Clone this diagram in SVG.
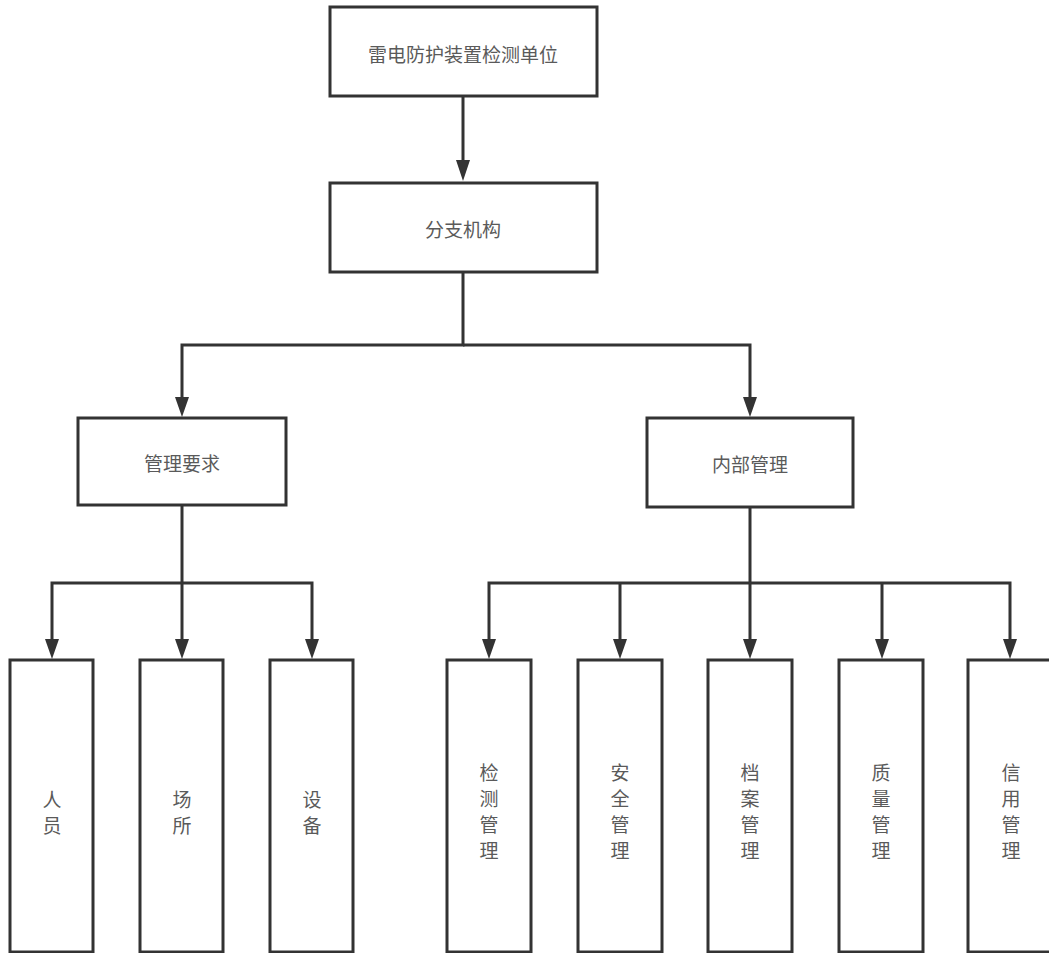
<svg xmlns="http://www.w3.org/2000/svg" width="1049" height="953" viewBox="0 0 1049 953">
<style>
.box{fill:#fff;stroke:#333;stroke-width:3}
.ln{fill:none;stroke:#333;stroke-width:3}
.t{font-family:"Noto Sans CJK SC","Noto Sans",sans-serif;font-size:19px;fill:#5a5a5a;text-anchor:middle;dominant-baseline:central}
</style>
<rect width="1049" height="953" fill="#fff"/>
<g id="connectors">
<path class="ln" d="M463,97 V162" />
<path d="M456,160 L470,160 L463,181 Z" fill="#333"/>
<path class="ln" d="M463,272 V345 H182 V398"/>
<path class="ln" d="M463,345 H750 V398"/>
<path d="M175,397 L189,397 L182,417 Z" fill="#333"/>
<path d="M743,397 L757,397 L750,417 Z" fill="#333"/>
<path class="ln" d="M182,505 V583"/>
<path class="ln" d="M52,640 V583 H312 V640"/>
<path class="ln" d="M182,583 V640"/>
<path d="M45,639 L59,639 L52,659 Z" fill="#333"/>
<path d="M175,639 L189,639 L182,659 Z" fill="#333"/>
<path d="M305,639 L319,639 L312,659 Z" fill="#333"/>
<path class="ln" d="M750,507 V583"/>
<path class="ln" d="M489,640 V583 H1010 V640"/>
<path class="ln" d="M620,583 V640 M750,583 V640 M882,583 V640"/>
<path d="M482,639 L496,639 L489,659 Z" fill="#333"/>
<path d="M613,639 L627,639 L620,659 Z" fill="#333"/>
<path d="M743,639 L757,639 L750,659 Z" fill="#333"/>
<path d="M875,639 L889,639 L882,659 Z" fill="#333"/>
<path d="M1003,639 L1017,639 L1010,659 Z" fill="#333"/>
</g>
<g id="n-root"><rect class="box" x="330" y="7" width="267" height="89"/><text class="t" x="463" y="53">雷电防护装置检测单位</text></g>
<g id="n-branch"><rect class="box" x="330" y="183" width="267" height="89"/><text class="t" x="463" y="228">分支机构</text></g>
<g id="n-req"><rect class="box" x="78" y="418" width="208" height="87"/><text class="t" x="182" y="462">管理要求</text></g>
<g id="n-int"><rect class="box" x="647" y="418" width="206" height="89"/><text class="t" x="750" y="463">内部管理</text></g>
<g id="n-ry"><rect class="box" x="10" y="660" width="83" height="292"/><text class="t" x="52" y="798">人</text><text class="t" x="52" y="824">员</text></g>
<g id="n-cs"><rect class="box" x="140" y="660" width="83" height="292"/><text class="t" x="182" y="798">场</text><text class="t" x="182" y="824">所</text></g>
<g id="n-sb"><rect class="box" x="270" y="660" width="83" height="292"/><text class="t" x="312" y="798">设</text><text class="t" x="312" y="824">备</text></g>
<g id="n-jc"><rect class="box" x="447" y="660" width="84" height="292"/><text class="t" x="489" y="771">检</text><text class="t" x="489" y="797">测</text><text class="t" x="489" y="823">管</text><text class="t" x="489" y="849">理</text></g>
<g id="n-aq"><rect class="box" x="578" y="660" width="84" height="292"/><text class="t" x="620" y="771">安</text><text class="t" x="620" y="797">全</text><text class="t" x="620" y="823">管</text><text class="t" x="620" y="849">理</text></g>
<g id="n-da"><rect class="box" x="708" y="660" width="84" height="292"/><text class="t" x="750" y="771">档</text><text class="t" x="750" y="797">案</text><text class="t" x="750" y="823">管</text><text class="t" x="750" y="849">理</text></g>
<g id="n-zl"><rect class="box" x="839" y="660" width="84" height="292"/><text class="t" x="881" y="771">质</text><text class="t" x="881" y="797">量</text><text class="t" x="881" y="823">管</text><text class="t" x="881" y="849">理</text></g>
<g id="n-xy"><rect class="box" x="968" y="660" width="90" height="292"/><text class="t" x="1011" y="771">信</text><text class="t" x="1011" y="797">用</text><text class="t" x="1011" y="823">管</text><text class="t" x="1011" y="849">理</text></g>
</svg>
